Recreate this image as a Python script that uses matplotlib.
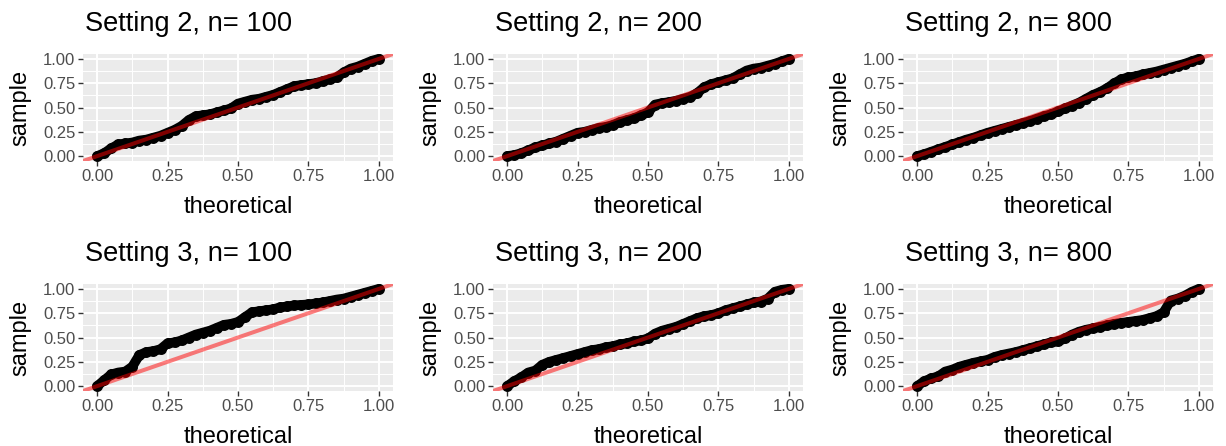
import numpy as np
import matplotlib
matplotlib.use('Agg')
import matplotlib.pyplot as plt
from matplotlib.ticker import MultipleLocator

plt.rcParams['font.family'] = ['Liberation Sans', 'DejaVu Sans']

# theoretical quantiles (read positions), shared by all panels
theoretical = [0.000, 0.025, 0.050, 0.075, 0.100, 0.125, 0.150, 0.175, 0.200, 0.225,
               0.250, 0.275, 0.300, 0.325, 0.350, 0.375, 0.400, 0.425, 0.450, 0.475,
               0.500, 0.525, 0.550, 0.575, 0.600, 0.625, 0.650, 0.675, 0.700, 0.725,
               0.750, 0.775, 0.800, 0.825, 0.850, 0.875, 0.900, 0.925, 0.950, 0.975, 1.000]

# sample quantiles
s2_n100 = [0.00, 0.03, 0.08, 0.12, 0.13, 0.14, 0.16, 0.17, 0.19, 0.21,
           0.24, 0.27, 0.31, 0.37, 0.41, 0.42, 0.43, 0.45, 0.47, 0.49,
           0.54, 0.56, 0.58, 0.59, 0.61, 0.63, 0.66, 0.69, 0.72, 0.73,
           0.74, 0.75, 0.77, 0.79, 0.81, 0.86, 0.90, 0.92, 0.95, 0.98, 1.00]
s2_n200 = [0.00, 0.01, 0.03, 0.06, 0.09, 0.11, 0.13, 0.15, 0.18, 0.21,
           0.24, 0.25, 0.27, 0.29, 0.30, 0.32, 0.35, 0.37, 0.39, 0.42,
           0.45, 0.53, 0.545, 0.555, 0.57, 0.59, 0.61, 0.65, 0.71, 0.74,
           0.76, 0.78, 0.80, 0.84, 0.88, 0.90, 0.91, 0.93, 0.95, 0.975, 1.00]
s2_n800 = [0.00, 0.02, 0.045, 0.07, 0.095, 0.12, 0.145, 0.17, 0.19, 0.215,
           0.24, 0.26, 0.28, 0.30, 0.32, 0.34, 0.36, 0.385, 0.41, 0.43,
           0.46, 0.49, 0.52, 0.55, 0.59, 0.63, 0.66, 0.70, 0.75, 0.79,
           0.81, 0.82, 0.84, 0.855, 0.87, 0.89, 0.91, 0.93, 0.95, 0.975, 1.00]
s3_n100 = [0.00, 0.06, 0.12, 0.14, 0.15, 0.20, 0.32, 0.35, 0.36, 0.38,
           0.44, 0.45, 0.47, 0.50, 0.53, 0.55, 0.57, 0.60, 0.63, 0.64,
           0.66, 0.71, 0.76, 0.77, 0.78, 0.79, 0.81, 0.82, 0.83, 0.835,
           0.84, 0.85, 0.86, 0.875, 0.89, 0.90, 0.92, 0.94, 0.96, 0.98, 1.00]
s3_n200 = [0.00, 0.05, 0.09, 0.14, 0.16, 0.22, 0.25, 0.27, 0.29, 0.31,
           0.33, 0.35, 0.37, 0.38, 0.40, 0.41, 0.43, 0.44, 0.46, 0.47,
           0.49, 0.54, 0.57, 0.59, 0.61, 0.64, 0.67, 0.70, 0.72, 0.73,
           0.75, 0.78, 0.80, 0.82, 0.84, 0.86, 0.87, 0.90, 0.97, 0.99, 1.00]
s3_n800 = [0.00, 0.05, 0.08, 0.10, 0.15, 0.17, 0.20, 0.22, 0.24, 0.255,
           0.27, 0.30, 0.32, 0.335, 0.35, 0.37, 0.39, 0.41, 0.43, 0.45,
           0.46, 0.49, 0.53, 0.56, 0.58, 0.595, 0.61, 0.625, 0.64, 0.65,
           0.66, 0.67, 0.68, 0.70, 0.72, 0.76, 0.88, 0.90, 0.93, 0.97, 1.00]

titles = ['Setting 2, n= 100', 'Setting 2, n= 200', 'Setting 2, n= 800',
          'Setting 3, n= 100', 'Setting 3, n= 200', 'Setting 3, n= 800']
samples = [s2_n100, s2_n200, s2_n800, s3_n100, s3_n200, s3_n800]
tick_vals = [0.0, 0.25, 0.5, 0.75, 1.0]
tick_labels = ['0.00', '0.25', '0.50', '0.75', '1.00']

W, H = 1226, 446
fig = plt.figure(figsize=(W / 100, H / 100), dpi=100)

col_left = [83, 493, 903]
row_top = [54, 284]
pw, ph = 310, 107

for i, (title, samp) in enumerate(zip(titles, samples)):
    r, c = divmod(i, 3)
    x0, y0 = col_left[c], row_top[r]
    ax = fig.add_axes([x0 / W, 1 - (y0 + ph) / H, pw / W, ph / H])
    ax.set_facecolor('#EBEBEB')
    for sp in ax.spines.values():
        sp.set_visible(False)

    # dense overlapping points form a thick band
    ax.plot(theoretical, samp, color='black', lw=7.0, solid_capstyle='round',
            solid_joinstyle='round', zorder=3)
    ax.scatter(theoretical, samp, s=62, c='black', linewidths=0, zorder=3)
    ax.axline((0, 0), slope=1, color='red', alpha=0.5, lw=2.9, zorder=4)

    ax.set_xlim(-0.05, 1.05)
    ax.set_ylim(-0.05, 1.05)
    ax.set_xticks(tick_vals)
    ax.set_xticklabels(tick_labels)
    ax.set_yticks(tick_vals)
    ax.set_yticklabels(tick_labels)
    ax.xaxis.set_minor_locator(MultipleLocator(0.125))
    ax.yaxis.set_minor_locator(MultipleLocator(0.125))
    ax.grid(which='major', color='white', lw=1.4, zorder=0)
    ax.grid(which='minor', color='white', lw=0.7, zorder=0)
    ax.set_axisbelow(True)
    ax.tick_params(which='major', length=3.5, width=1.0, color='#333333',
                   labelsize=12, labelcolor='#4D4D4D', pad=2)
    ax.tick_params(which='minor', length=0)

    fig.text((x0 + 2) / W, 1 - 31 / H - r * 230 / H, title, fontsize=19.6,
             ha='left', va='baseline')
    fig.text((x0 + pw / 2) / W, 1 - 213 / H - r * 230 / H, 'theoretical',
             fontsize=17, ha='center', va='baseline')
    fig.text((x0 - 63) / W, 1 - (y0 + ph / 2) / H, 'sample', fontsize=17,
             rotation=90, ha='center', va='center')

fig.savefig('out.png', dpi=100)
